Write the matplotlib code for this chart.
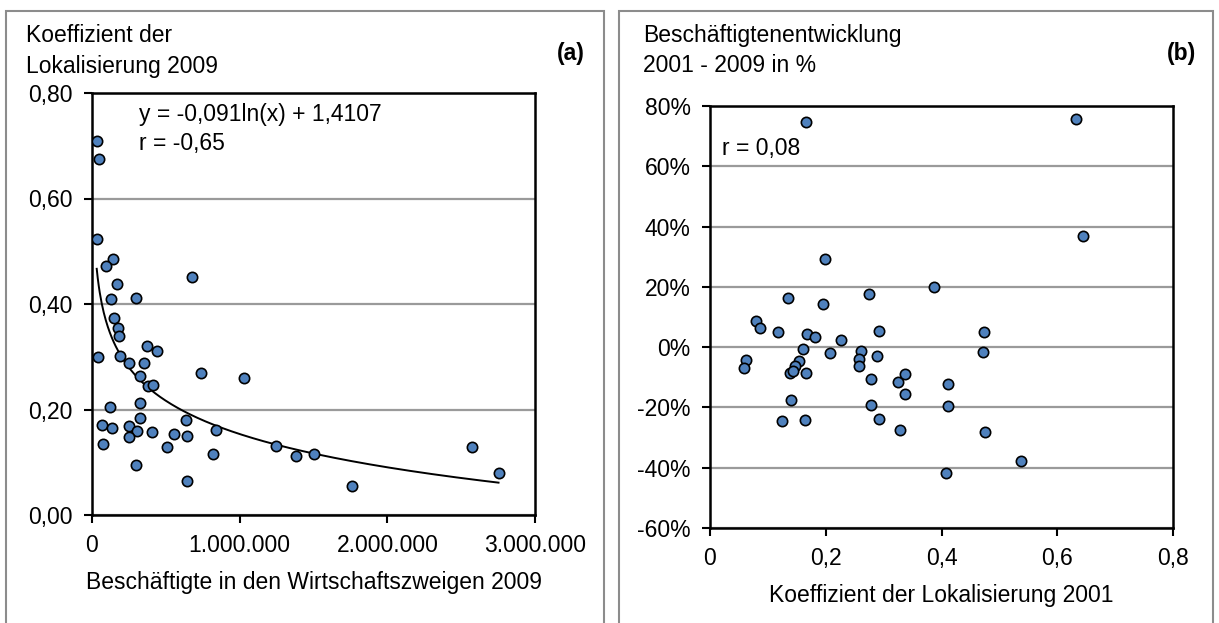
import numpy as np
import matplotlib.pyplot as plt
from matplotlib.patches import Rectangle
from matplotlib.ticker import FuncFormatter, FixedLocator

# Panel (a): Beschäftigte 2009 vs. Koeffizient der Lokalisierung 2009
besch_2009 = [32000, 49000, 36000, 144000, 95000, 171000, 677000, 129000, 298000,
              149000, 176000, 185000, 370000, 440000, 43000, 192000, 253000, 354000,
              740000, 1029000, 325000, 379000, 415000, 120000, 325000, 325000,
              636000, 66000, 133000, 248000, 302000, 253000, 408000, 557000,
              641000, 837000, 72000, 506000, 822000, 296000, 641000, 1246000,
              1379000, 1501000, 1758000, 2571000, 2753000]
lok_2009 = [0.709, 0.675, 0.523, 0.485, 0.472, 0.438, 0.451, 0.410, 0.411,
            0.373, 0.355, 0.339, 0.320, 0.310, 0.299, 0.301, 0.289, 0.288,
            0.270, 0.259, 0.263, 0.245, 0.246, 0.204, 0.212, 0.184,
            0.181, 0.171, 0.164, 0.169, 0.160, 0.148, 0.157, 0.154,
            0.149, 0.161, 0.134, 0.128, 0.116, 0.094, 0.064, 0.130,
            0.112, 0.116, 0.055, 0.129, 0.079]
trend_a, trend_b = -0.091, 1.4107

# Panel (b): Koeffizient der Lokalisierung 2001 vs. Beschäftigtenentwicklung
lok_2001 = [0.166, 0.632, 0.644, 0.199, 0.387, 0.275, 0.134, 0.196, 0.079, 0.086,
            0.117, 0.168, 0.181, 0.227, 0.292, 0.474, 0.161, 0.207, 0.261, 0.257,
            0.289, 0.472, 0.063, 0.059, 0.154, 0.147, 0.139, 0.166, 0.257, 0.279,
            0.324, 0.337, 0.337, 0.412, 0.411, 0.140, 0.279, 0.124, 0.165, 0.292,
            0.328, 0.476, 0.407, 0.537, 0.144]
entw = [0.747, 0.756, 0.369, 0.294, 0.198, 0.176, 0.164, 0.143, 0.087, 0.065,
        0.049, 0.043, 0.032, 0.025, 0.054, 0.051, -0.006, -0.021, -0.014, -0.039,
        -0.030, -0.016, -0.042, -0.069, -0.047, -0.063, -0.087, -0.085, -0.063, -0.106,
        -0.115, -0.090, -0.154, -0.123, -0.196, -0.175, -0.192, -0.245, -0.241, -0.238,
        -0.276, -0.283, -0.418, -0.378, -0.080]

W, H = 1219, 623
plt.rcParams['font.family'] = ['Liberation Sans', 'DejaVu Sans']
FS = 16.5

fig = plt.figure(figsize=(W / 100, H / 100), dpi=100)


def box(l, r, t, b):
    return [l / W, 1 - b / H, (r - l) / W, (b - t) / H]


def ftext(x, y, s, **kw):
    fig.text(x / W, 1 - y / H, s, fontsize=FS, **kw)


# gray panel frames
for l, r in [(6, 604), (619, 1213)]:
    fig.add_artist(Rectangle((l / W, -0.05), (r - l) / W, 1.05 - 11 / H,
                             transform=fig.transFigure, fill=False,
                             edgecolor='#8c8c8c', lw=1.5))


def style(ax):
    for sp in ax.spines.values():
        sp.set_linewidth(1.8)
        sp.set_color('black')
    ax.yaxis.grid(True, color='#9a9a9a', lw=1.6)
    ax.set_axisbelow(True)
    ax.tick_params(direction='out', length=6, width=1.5, labelsize=FS, pad=8,
                   top=False, right=False)


mk = dict(s=55, c='#4F81BD', edgecolors='black', linewidths=1.2, zorder=3)

# ---- (a)
ax1 = fig.add_axes(box(92, 535, 93, 515))
style(ax1)
ax1.scatter(besch_2009, lok_2009, **mk)
xs = np.linspace(min(besch_2009), max(besch_2009), 400)
ax1.plot(xs, trend_a * np.log(xs) + trend_b, color='black', lw=1.4, zorder=2)
ax1.set_xlim(0, 3000000)
ax1.set_ylim(0, 0.8)
ax1.xaxis.set_major_locator(FixedLocator([0, 1e6, 2e6, 3e6]))
ax1.yaxis.set_major_locator(FixedLocator([0, 0.2, 0.4, 0.6, 0.8]))
ax1.xaxis.set_major_formatter(FuncFormatter(lambda v, p: f"{int(v):,}".replace(',', '.')))
ax1.yaxis.set_major_formatter(FuncFormatter(lambda v, p: f"{v:.2f}".replace('.', ',')))
ax1.set_xlabel('Beschäftigte in den Wirtschaftszweigen 2009', fontsize=FS, labelpad=10)
ax1.text(0.105, 0.948, 'y = -0,091ln(x) + 1,4107', transform=ax1.transAxes,
         fontsize=FS, va='center')
ax1.text(0.105, 0.881, 'r = -0,65', transform=ax1.transAxes, fontsize=FS, va='center')

ftext(26, 42, 'Koeffizient der', va='baseline')
ftext(26, 73, 'Lokalisierung 2009', va='baseline')
ftext(585, 60, '(a)', va='baseline', ha='right', fontweight='bold')

# ---- (b)
ax2 = fig.add_axes(box(710, 1173, 106, 528))
style(ax2)
ax2.scatter(lok_2001, entw, **mk)
ax2.set_xlim(0, 0.8)
ax2.set_ylim(-0.6, 0.8)
ax2.xaxis.set_major_locator(FixedLocator([0, 0.2, 0.4, 0.6, 0.8]))
ax2.yaxis.set_major_locator(FixedLocator(np.arange(-0.6, 0.81, 0.2)))
ax2.xaxis.set_major_formatter(FuncFormatter(lambda v, p: '0' if abs(v) < 1e-9 else f"{v:.1f}".replace('.', ',')))
ax2.yaxis.set_major_formatter(FuncFormatter(lambda v, p: f"{v * 100:.0f}%"))
ax2.set_xlabel('Koeffizient der Lokalisierung 2001', fontsize=FS, labelpad=10)
ax2.text(0.025, 0.90, 'r = 0,08', transform=ax2.transAxes, fontsize=FS, va='center')

ftext(643, 42, 'Beschäftigtenentwicklung', va='baseline')
ftext(643, 72, '2001 - 2009 in %', va='baseline')
ftext(1196, 60, '(b)', va='baseline', ha='right', fontweight='bold')

plt.savefig('out.png', dpi=100)
plt.close()
